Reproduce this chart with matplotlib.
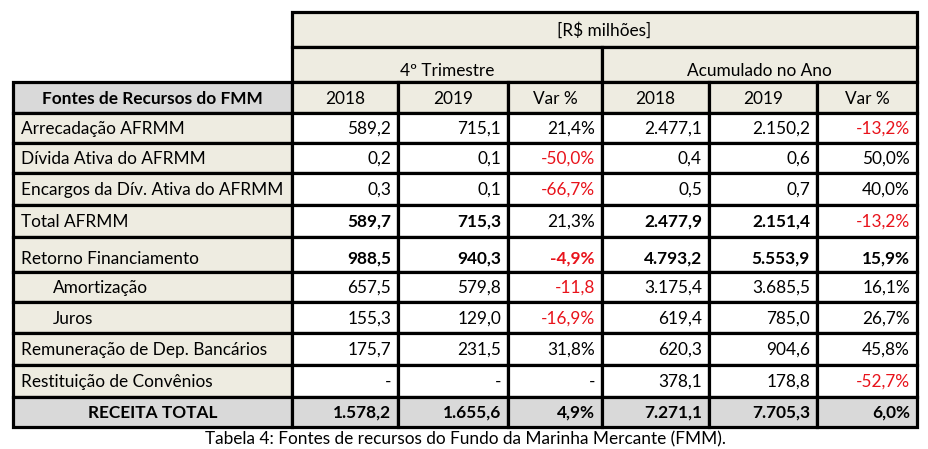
import matplotlib
matplotlib.use("Agg")
import matplotlib.pyplot as plt
from matplotlib.patches import Rectangle

plt.rcParams['font.family'] = ['Lato', 'DejaVu Sans']

# ---- data ----
unit_label = "[R$ milhões]"
group_labels = ["4º Trimestre", "Acumulado no Ano"]
col_headers = ["Fontes de Recursos do FMM", "2018", "2019", "Var %", "2018", "2019", "Var %"]
row_labels = ["Arrecadação AFRMM", "Dívida Ativa do AFRMM", "Encargos da Dív. Ativa do AFRMM",
              "Total AFRMM", "Retorno Financiamento", "Amortização", "Juros",
              "Remuneração de Dep. Bancários", "Restituição de Convênios", "RECEITA TOTAL"]
q4_2018 = ["589,2", "0,2", "0,3", "589,7", "988,5", "657,5", "155,3", "175,7", "-", "1.578,2"]
q4_2019 = ["715,1", "0,1", "0,1", "715,3", "940,3", "579,8", "129,0", "231,5", "-", "1.655,6"]
q4_var = ["21,4%", "-50,0%", "-66,7%", "21,3%", "-4,9%", "-11,8", "-16,9%", "31,8%", "-", "4,9%"]
ac_2018 = ["2.477,1", "0,4", "0,5", "2.477,9", "4.793,2", "3.175,4", "619,4", "620,3", "378,1", "7.271,1"]
ac_2019 = ["2.150,2", "0,6", "0,7", "2.151,4", "5.553,9", "3.685,5", "785,0", "904,6", "178,8", "7.705,3"]
ac_var = ["-13,2%", "50,0%", "40,0%", "-13,2%", "15,9%", "16,1%", "26,7%", "45,8%", "-52,7%", "6,0%"]
caption = "Tabela 4: Fontes de recursos do Fundo da Marinha Mercante (FMM)."

# ---- style / layout ----
BEIGE = "#EEECE1"
GREY = "#D9D9D9"
WHITE = "#FFFFFF"
RED = "#E8131B"
LW = 2.3
FS = 12.4

col_x = [13, 292, 398, 508, 602, 709, 817, 917]
row_y = [82, 113, 143, 173, 205, 237, 272, 302, 333, 365, 397, 427]
top_y = [12, 47, 82]
indented = {"Amortização", "Juros"}
bold_vals = {"Total AFRMM": [True, True, False, True, True, False],
             "Retorno Financiamento": [True] * 6,
             "RECEITA TOTAL": [True] * 6}

fig = plt.figure(figsize=(9.29, 4.49), dpi=100)
ax = fig.add_axes([0, 0, 1, 1])
ax.set_xlim(0, 929)
ax.set_ylim(449, 0)
ax.axis("off")


def cell(x0, x1, y0, y1, fc):
    ax.add_patch(Rectangle((x0, y0), x1 - x0, y1 - y0, facecolor=fc,
                           edgecolor="black", linewidth=LW, zorder=1))


# top unit row
cell(col_x[1], col_x[-1], top_y[0], top_y[1], BEIGE)
ax.text((col_x[1] + col_x[-1]) / 2, (top_y[0] + top_y[1]) / 2 + 1, unit_label,
        ha="center", va="center", fontsize=FS, zorder=3)
# group row
for g, (a, b) in enumerate([(1, 4), (4, 7)]):
    cell(col_x[a], col_x[b], top_y[1], top_y[2], BEIGE)
    ax.text((col_x[a] + col_x[b]) / 2, top_y[2] - 11, group_labels[g],
            ha="center", va="center", fontsize=FS, zorder=3)
# column header row
for c, h in enumerate(col_headers):
    fc = GREY if c == 0 else BEIGE
    cell(col_x[c], col_x[c + 1], row_y[0], row_y[1], fc)
    ax.text((col_x[c] + col_x[c + 1]) / 2, (row_y[0] + row_y[1]) / 2 + 1, h,
            ha="center", va="center", fontsize=FS,
            fontweight="bold" if c == 0 else "normal", zorder=3)

columns = [q4_2018, q4_2019, q4_var, ac_2018, ac_2019, ac_var]
var_cols = {2, 5}
for r, lab in enumerate(row_labels):
    y0, y1 = row_y[r + 1], row_y[r + 2]
    yc = (y0 + y1) / 2 + 1
    is_total = lab == "RECEITA TOTAL"
    if lab == "Retorno Financiamento":
        yc = y1 - 13
    cell(col_x[0], col_x[1], y0, y1, GREY if is_total else BEIGE)
    if is_total:
        ax.text((col_x[0] + col_x[1]) / 2, yc, lab, ha="center", va="center",
                fontsize=FS, fontweight="bold", zorder=3)
    else:
        xo = col_x[0] + (40 if lab in indented else 8)
        ax.text(xo, yc, lab, ha="left", va="center", fontsize=FS, zorder=3)
    bolds = bold_vals.get(lab, [False] * 6)
    for c, col in enumerate(columns):
        x0, x1 = col_x[c + 1], col_x[c + 2]
        cell(x0, x1, y0, y1, GREY if is_total else WHITE)
        v = col[r]
        color = RED if (c in var_cols and v.startswith("-") and v != "-") else "black"
        ax.text(x1 - 7, yc, v, ha="right", va="center", fontsize=FS, color=color,
                fontweight="bold" if bolds[c] else "normal", zorder=3)

ax.text(466, 439, caption, ha="center", va="center", fontsize=FS, zorder=3)

fig.savefig("out.png", dpi=100)
